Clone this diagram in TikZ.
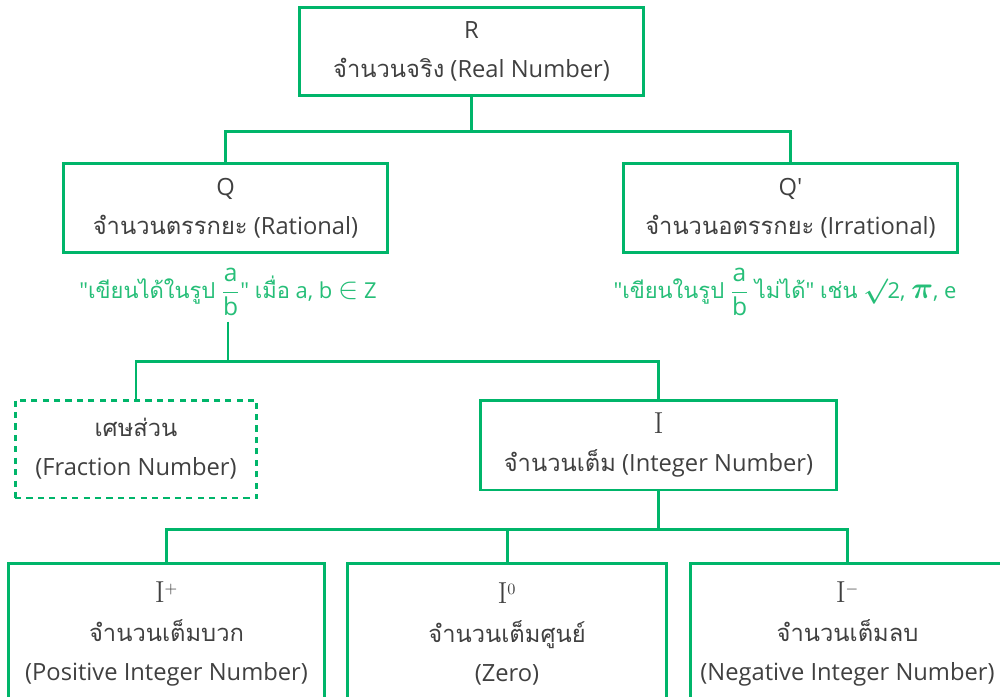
\documentclass[tikz,border=0pt]{standalone}
\usepackage{amsmath,bm}
\usepackage[no-math]{fontspec}
\setmainfont{Open Sans}[Ligatures=TeXOff]
\newfontfamily\thai[Script=Thai]{Loma}
\usepackage{tikz}
\usetikzlibrary{positioning}
\usepackage{xcolor}
\definecolor{leafgreen}{RGB}{0,181,106}
\definecolor{notegreen}{RGB}{38,190,120}
\definecolor{inkgray}{RGB}{64,64,64}
\newcommand{\setI}{{\fontsize{16}{16}\selectfont$\mathrm{I}$}}
\newcommand{\bigsym}[1]{{\fontsize{17}{17}\selectfont$#1$}}
\newcommand{\afrac}{{\fontsize{14}{14}\selectfont$\dfrac{\text{a}}{\text{b}}$}}
\tikzset{
  setbox/.style={rectangle,draw=leafgreen,line width=1.7pt,text=inkgray,align=center,
    font=\fontsize{13.5}{22}\selectfont,inner sep=2pt},
  dashbox/.style={setbox,dash pattern=on 3.5pt off 3pt},
  note/.style={text=notegreen,font=\fontsize{12.5}{20}\selectfont,inner sep=3pt},
  link/.style={draw=leafgreen,line width=1.7pt}
}

\begin{document}
\begin{tikzpicture}[x=0.02cm,y=-0.02cm]
\useasboundingbox (0,0) rectangle (1000,696);
\clip (0,0) rectangle (1000,696);
% real numbers and their two halves
\node[setbox,minimum width=6.9cm,minimum height=1.78cm] (real) at (471.5,51.5)
  {R\\{\thai จำนวนจริง} (Real Number)};
\node[setbox,minimum width=6.5cm,minimum height=1.8cm] (rat) at (225.5,208)
  {Q\\{\thai จำนวนตรรกยะ} (Rational)};
\node[setbox,minimum width=6.7cm,minimum height=1.8cm] (irr) at (790.5,208)
  {Q'\\{\thai จำนวนอตรรกยะ} (Irrational)};
\node[note] (ratnote) at (228,292)
  {"{\thai เขียนได้ในรูป} \afrac" {\thai เมื่อ} a, b \bigsym{\in} Z};
\node[note] (irrnote) at (785,292)
  {"{\thai เขียนในรูป} \afrac{} {\thai ไม่ได้}" {\thai เช่น}
   {\fontsize{14.5}{14}\selectfont$\bm{\surd}$}2, \bigsym{\bm{\pi}}, e};
% below the rationals
\node[dashbox,minimum width=4.84cm,minimum height=1.96cm] (frac) at (136,449)
  {{\thai เศษส่วน}\\(Fraction Number)};
\node[setbox,minimum width=7.14cm,minimum height=1.8cm] (int) at (658.5,445)
  {\setI\\{\thai จำนวนเต็ม} (Integer Number)};
% the three kinds of integers
\node[setbox,minimum width=6.34cm,minimum height=2.84cm] (pos) at (166.5,634)
  {\setI$^{+}$\\{\thai จำนวนเต็มบวก}\\(Positive Integer Number)};
\node[setbox,minimum width=6.4cm,minimum height=2.84cm] (zero) at (507,634)
  {\setI$^{0}$\\{\thai จำนวนเต็มศูนย์}\\(Zero)};
\node[setbox,minimum width=6.3cm,minimum height=2.84cm] (neg) at (847.5,634)
  {\setI$^{-}$\\{\thai จำนวนเต็มลบ}\\(Negative Integer Number)};
% tree lines
\draw[link] (real.south) -- ++(0,34) coordinate (rsplit) -| (rat.north);
\draw[link] (rsplit) -| (irr.north);
\draw[link] (ratnote.south) -- ++(0,40) coordinate (qsplit) -| (frac.north);
\draw[link] (qsplit) -| (int.north);
\draw[link] (int.south) -- ++(0,38) coordinate (isplit) -| (pos.north);
\draw[link] (isplit) -| (zero.north);
\draw[link] (isplit) -| (neg.north);
\end{tikzpicture}
\end{document}
